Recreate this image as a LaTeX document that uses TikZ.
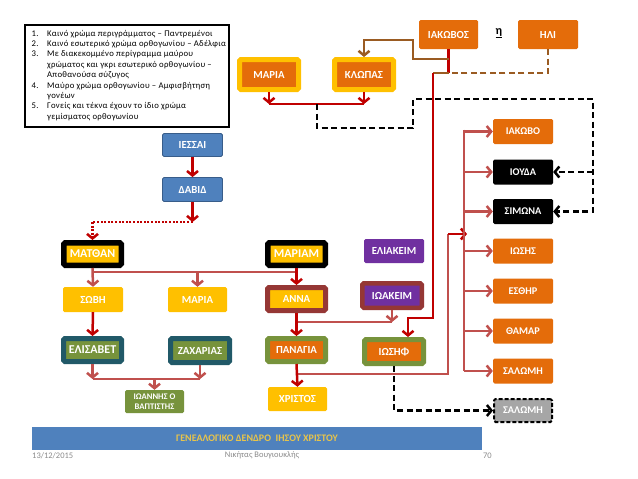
\documentclass[tikz,border=0pt]{standalone}
\usepackage{fontspec}
\setmainfont{Carlito}
\newfontfamily\legfont[LetterSpace=3]{Carlito}
\usetikzlibrary{arrows.meta}
\definecolor{orng}{HTML}{E46C0A}
\definecolor{ylw}{HTML}{FFC000}
\definecolor{blu}{HTML}{4F81BD}
\definecolor{bluD}{HTML}{385D8A}
\definecolor{prp}{HTML}{7030A0}
\definecolor{grn}{HTML}{77933C}
\definecolor{tealD}{HTML}{215968}
\definecolor{brnred}{HTML}{953735}
\definecolor{dred}{HTML}{C00000}
\definecolor{pred}{HTML}{C0504D}
\definecolor{brn}{HTML}{9A5B22}
\definecolor{goldt}{HTML}{E8C44A}
\definecolor{gry}{HTML}{A6A6A6}
\definecolor{foot}{HTML}{8B8B8B}
\begin{document}
\begin{tikzpicture}[x=1pt,y=-1pt,
  bx/.style={inner sep=0pt, text=white, font=\fontsize{10.8}{12}\selectfont\bfseries, rounded corners=1.5pt, align=center},
  big/.style={font=\fontsize{12}{13}\selectfont\bfseries},
  sq/.style={bx, fill=#1},
  wd/.style 2 args={minimum width=#1, minimum height=#2},
  dbl/.style 2 args={bx, fill=#1, draw=#2, line width=5pt},
  rc/.style={bx, fill=#1, minimum width=60pt, minimum height=25pt, font=\fontsize{10.3}{11}\selectfont\bfseries},
  tipV/.tip={Straight Barb[length=4.5pt,width=11pt]},
  drl/.style={draw=dred, line width=2.5pt},
  dra/.style={drl, -tipV},
  prl/.style={draw=pred, line width=2.5pt},
  pra/.style={prl, -tipV},
  brl/.style={draw=brn, line width=2.5pt},
  bra/.style={brl, -tipV},
  bdash/.style={draw=black, line width=2.5pt, dash pattern=on 6pt off 3.5pt},
  bdasha/.style={bdash, -tipV},
  dotl/.style={draw=dred, line width=2.5pt, dash pattern=on 2pt off 1.6pt},
  dota/.style={dotl, -tipV},
]
\useasboundingbox (0,0) rectangle (638,479);
\fill[white] (0,0) rectangle (638,479);

% legend
\node[draw=black, line width=2pt, minimum width=204pt, minimum height=102pt, inner sep=0pt] (legend) at (127,76) {};
\node[anchor=north west, inner sep=0pt, font=\legfont\fontsize{8.7}{10.4}\selectfont, align=left] (legtxt) at (31.5,28.7) {%
\begin{tabular}{@{}p{15.5pt}@{}l@{}}
1. & Καινό χρώμα περιγράμματος – Παντρεμένοι\\
2. & Καινό εσωτερικό χρώμα ορθογωνίου – Αδέλφια\\
3. & Με διακεκομμένο περίγραμμα μαύρου\\
   & χρώματος και γκρι εσωτερικό ορθογωνίου –\\
   & Αποθανούσα σύζυγος\\
4. & Μαύρο χρώμα ορθογωνίου – Αμφισβήτηση\\
   & γονέων\\
5. & Γονείς και τέκνα έχουν το ίδιο χρώμα\\
   & γεμίσματος ορθογωνίου
\end{tabular}};

% top row
\node[sq=orng, wd={59pt}{29pt}] (iakovos) at (448.5,34.5) {ΙΑΚΩΒΟΣ};
\node[sq=orng, wd={60pt}{29pt}] (ili) at (548,34.5) {ΗΛΙ};
\node[inner sep=0pt, font=\fontsize{12}{13}\selectfont\bfseries] (eta) at (499,33) {\underline{η}};
\node[dbl={orng}{ylw}, wd={59pt}{30pt}] (mariaT) at (269,74.5) {ΜΑΡΙΑ};
\node[dbl={orng}{ylw}, wd={59pt}{30pt}] (klopas) at (364,74.5) {ΚΛΩΠΑΣ};

% blue
\node[sq=blu, draw=bluD, line width=0.8pt, wd={60pt}{23pt}] (iessai) at (192.5,145) {ΙΕΣΣΑΙ};
\node[sq=blu, draw=bluD, line width=0.8pt, wd={60pt}{24pt}] (david) at (192.5,189.5) {ΔΑΒΙΔ};

% generation rows
\node[dbl={ylw}{black}, line width=5.5pt, wd={57.5pt}{22.5pt}, big] (matthan) at (92.5,254) {ΜΑΤΘΑΝ};
\node[dbl={ylw}{black}, line width=5.5pt, wd={57.5pt}{22.5pt}, big] (mariam) at (296.5,254) {ΜΑΡΙΑΜ};
\node[sq=ylw, wd={60pt}{25pt}] (soby) at (93,299.5) {ΣΩΒΗ};
\node[sq=ylw, wd={59pt}{25pt}] (mariaM) at (197.5,299.5) {ΜΑΡΙΑ};
\node[dbl={ylw}{brnred}, wd={58pt}{23pt}] (anna) at (296.5,299) {ΑΝΝΑ};
\node[sq=prp, wd={60pt}{24pt}] (eliakeim) at (394,251) {ΕΛΙΑΚΕΙΜ};
\node[dbl={prp}{brnred}, line width=4.5pt, wd={59.5pt}{24.5pt}] (ioakeim) at (392,295.5) {ΙΩΑΚΕΙΜ};
\node[dbl={grn}{tealD}, wd={58pt}{23pt}, big] (elisavet) at (92.5,350) {ΕΛΙΣΑΒΕΤ};
\node[dbl={grn}{tealD}, wd={59pt}{24pt}] (zacharias) at (200,350.5) {ΖΑΧΑΡΙΑΣ};
\node[dbl={orng}{grn}, wd={58pt}{23pt}] (panagia) at (296.5,350) {ΠΑΝΑΓΙΑ};
\node[dbl={orng}{grn}, wd={59pt}{24pt}] (iosif) at (394,351.5) {ΙΩΣΗΦ};
\node[sq=grn, wd={59pt}{23pt}, font=\fontsize{8.6}{10}\selectfont\bfseries] (ioannis) at (154.5,401.5) {ΙΩΑΝΝΗΣ Ο\\ΒΑΠΤΙΣΤΗΣ};
\node[sq=ylw, wd={59pt}{24pt}] (christos) at (297.5,399) {ΧΡΙΣΤΟΣ};

% right column
\node[rc=orng] (iakovo) at (523,131.5) {ΙΑΚΩΒΟ};
\node[rc=black] (iouda) at (523,172) {ΙΟΥΔΑ};
\node[rc=black] (simona) at (523,211.5) {ΣΙΜΩΝΑ};
\node[rc=orng] (iosis) at (523,251) {ΙΩΣΗΣ};
\node[rc=orng] (esthir) at (523,291) {ΕΣΘΗΡ};
\node[rc=orng] (thamar) at (523,331) {ΘΑΜΑΡ};
\node[rc=orng] (salomi) at (523,371) {ΣΑΛΩΜΗ};
\node[rc=gry, draw=black, line width=2pt, dash pattern=on 4pt off 2pt, minimum width=58pt, minimum height=23pt] (salomiB) at (523,410.5) {ΣΑΛΩΜΗ};

% banner and footer
\node[fill=blu, inner sep=0pt, minimum width=450pt, minimum height=23pt, text=goldt, font=\fontsize{10}{11}\selectfont\bfseries] (banner) at (257,438.5) {ΓΕΝΕΑΛΟΓΙΚΟ ΔΕΝΔΡΟ\ \ ΙΗΣΟΥ ΧΡΙΣΤΟΥ};
\node[anchor=west, inner sep=0pt, text=foot, font=\fontsize{8.5}{10}\selectfont] (date) at (32,455.5) {13/12/2015};
\node[inner sep=0pt, text=foot, font=\fontsize{8.5}{10}\selectfont] (author) at (262,455.5) {Νικήτας Βουγιουκλής};
\node[anchor=east, inner sep=0pt, text=foot, font=\fontsize{8.5}{10}\selectfont] (page) at (492,455.5) {70};

% ---- connectors ----
\coordinate (jA) at (448.5,73);
\coordinate (jB) at (433,73);
\coordinate (jC) at (448.5,59);
\coordinate (jE) at (413,59);
\coordinate (jF) at (413,40);
\coordinate (jD) at (408,318);
\draw[drl] (iakovos.south) -- (jA);
\draw[brl, dash pattern=on 6pt off 3.5pt] (ili.south) |- (jA);
\draw[brl] (jA) -- (jB);
\draw[bra] (jC) -- (jE) -- (jF) -| (klopas.north);
\draw[dra] (jB) |- (jD) -- (jD |- iosif.north);

% Maria + Klopas
\coordinate (mb1) at (269,104);
\coordinate (mb2) at (364,104);
\coordinate (mb3) at (317,104);
\draw[drl] (mb1) -- (mb2);
\draw[dra] (mariaT.south) -- (mb1);
\draw[dra] (klopas.south) -- (mb2);

% black dashed to Iouda / Simona
\coordinate (k1) at (317,128);
\coordinate (k2) at (413,128);
\coordinate (k3) at (413,99);
\coordinate (k4) at (593,99);
\draw[bdasha] (mb3) -- (k1) -- (k2) -- (k3) -- (k4) |- (simona.east);
\draw[bdasha] (k4 |- iouda.east) -- (iouda.east);

% Iessai - David - Matthan
\coordinate (d1) at (192.5,222);
\coordinate (d2) at (92.5,222);
\draw[dra] (iessai.south) -- (david.north);
\draw[dra] (david.south) -- (d1);
\draw[dotl] (d1) -- (d2);
\draw[dota] (d2) -- (matthan.north);

% Matthan + Mariam
\coordinate (tb1) at (93,272);
\coordinate (tb2) at (197.5,272);
\coordinate (tb3) at (296.5,272);
\draw[prl] (tb1) -- (tb3);
\draw[pra] (matthan.south) -- (soby.north);
\draw[pra] (tb2) -- (mariaM.north);
\draw[dra] (mariam.south) -- (anna.north);

% Zobi - Elisavet, Elisavet + Zacharias
\draw[dra] (soby.south) -- (elisavet.north);
\coordinate (eb1) at (92.5,379);
\coordinate (eb2) at (200,379);
\coordinate (eb3) at (154.5,379);
\draw[prl] (eb1) -- (eb2);
\draw[pra] (elisavet.south) -- (eb1);
\draw[pra] (zacharias.south) -- (eb2);
\draw[pra] (eb3) -- (ioannis.north);

% Anna + Ioakeim
\coordinate (ab1) at (296.5,322);
\coordinate (ab2) at (392,322);
\draw[prl] (ab1) -- (ab2);
\draw[pra] (ioakeim.south) -- (ab2);
\draw[dra] (anna.south) -- (panagia.north);

% Panagia + Iosif
\coordinate (pb1) at (296.5,374);
\coordinate (pb2) at (448,374);
\coordinate (pb3) at (448,234);
\coordinate (pb4) at (467,234);
\draw[prl] (pb1) -- (pb2) -- (pb3);
\draw[dra] (pb3) -- (pb4);
\draw[dra] (panagia.south) -- (christos.north);

% siblings bus
\coordinate (s0) at (464,129.5);
\draw[prl] (s0) -- (s0 |- salomi.west);
\foreach \n in {iakovo,iouda,simona,iosis,esthir,thamar,salomi}
  \draw[pra] (s0 |- \n.west) -- (\n.west);

% Iosif - deceased wife
\draw[bdasha] (iosif.south) |- (salomiB.west);
\end{tikzpicture}
\end{document}
